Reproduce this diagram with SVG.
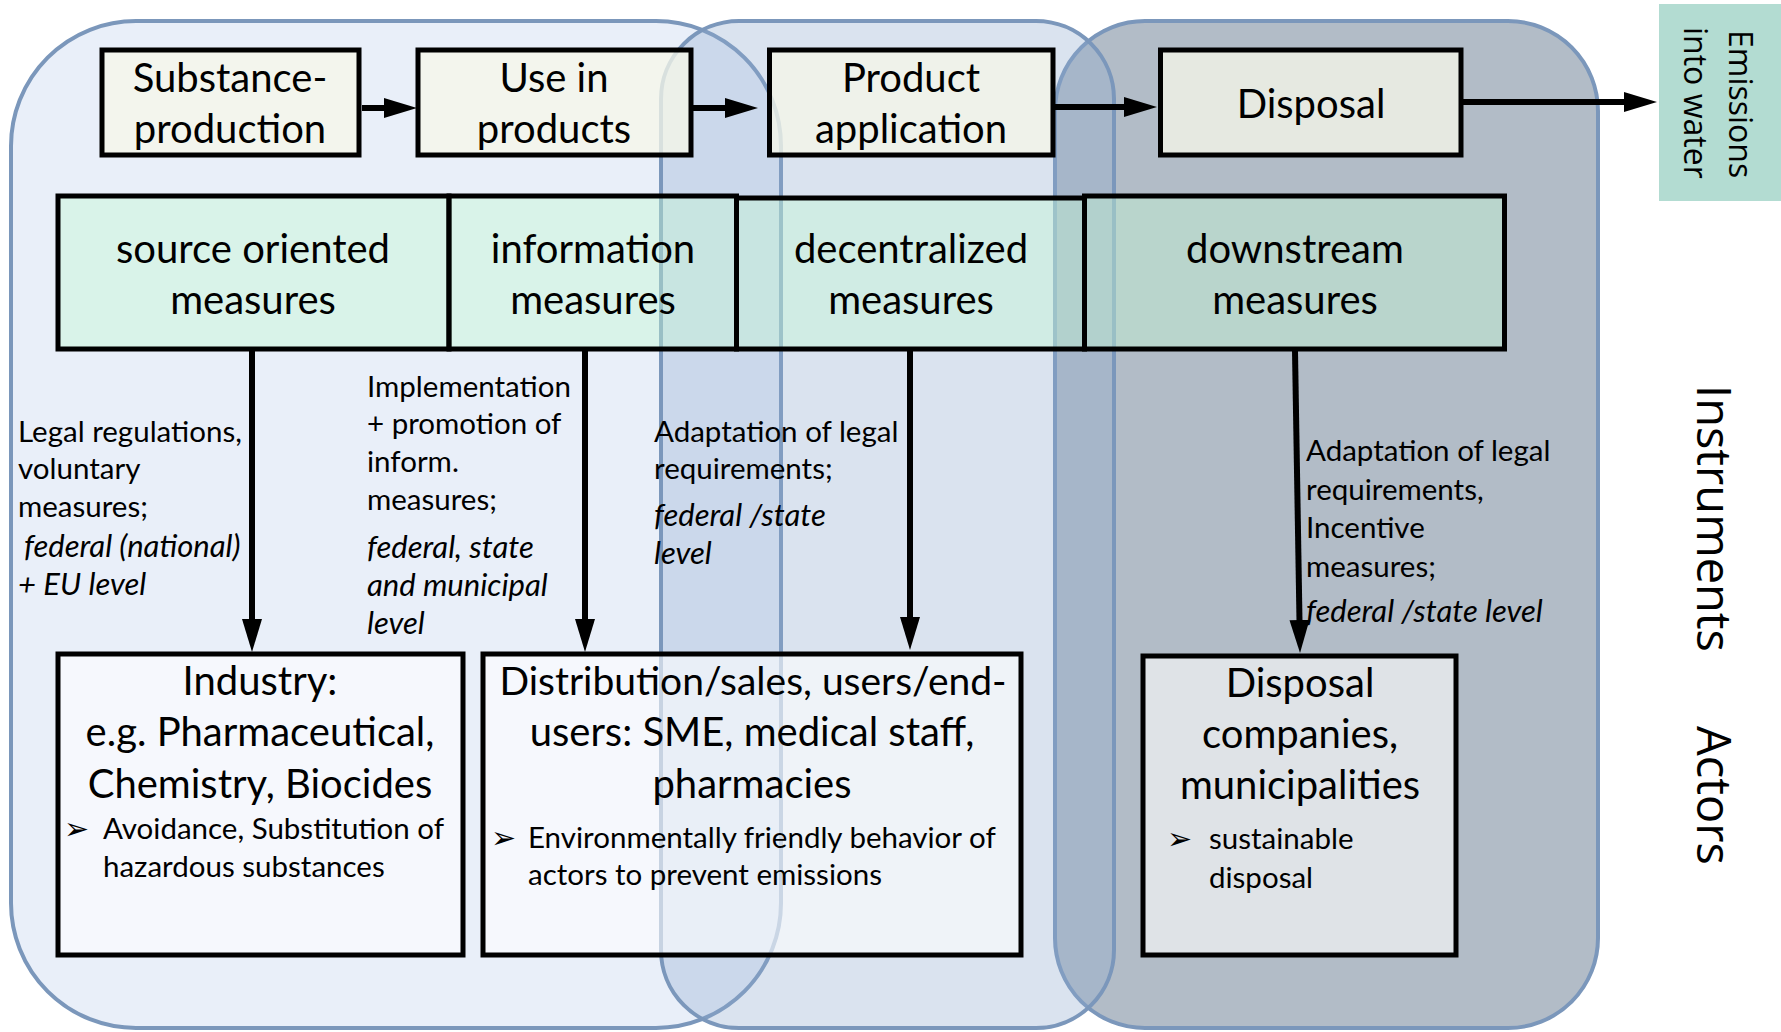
<svg xmlns="http://www.w3.org/2000/svg" width="1781" height="1032" viewBox="0 0 1781 1032">
<defs>
<style>
.blob{stroke:#7b97bb;stroke-width:4}
.top{fill:#f6f7e8;fill-opacity:0.76;stroke:#000;stroke-width:5}
.meas{fill:#c3f7d3;fill-opacity:0.42;stroke:#000;stroke-width:5}
.act{fill:#ffffff;fill-opacity:0.58;stroke:#000;stroke-width:5}
.conn{stroke:#000;stroke-width:6;fill:none;marker-end:url(#ah)}
text{font-family:Lato,"Liberation Sans",sans-serif;fill:#000}
.big{font-size:40px}
.big2{font-size:39px}
.sm{font-size:29.5px}
.it{font-style:italic;font-size:31px}
.mid{text-anchor:middle}
.rot{font-family:"Open Sans","DejaVu Sans",sans-serif}
.bul{font-family:"DejaVu Sans",sans-serif;font-size:30px}
</style>
<marker id="ah" markerUnits="userSpaceOnUse" markerWidth="34" markerHeight="22" viewBox="0 0 34 22" refX="1" refY="11" orient="auto">
<path d="M0,1 L33,11 L0,21 Z" fill="#000"/>
</marker>
</defs>
<rect width="1781" height="1032" fill="#fff"/>
<g id="phases">
<rect id="phase-left" class="blob" x="11" y="21" width="770" height="1007" rx="125" ry="125" fill="#e9eff9"/>
<rect id="phase-right" class="blob" x="1055" y="21" width="543" height="1007" rx="90" ry="90" fill="#b2bcc7"/>
<rect id="phase-middle" class="blob" x="661" y="21" width="453" height="1007" rx="78" ry="78" fill="#8eaace" fill-opacity="0.33"/>
</g>
<g id="emissions">
<rect x="1659" y="4" width="122" height="197" fill="#b3dcd2"/>
<text class="rot" font-size="32" transform="translate(1729,30) rotate(90)">Emissions</text>
<text class="rot" font-size="32" transform="translate(1684,27) rotate(90)">into water</text>
</g>
<g id="side-labels">
<text class="rot" font-size="47" transform="translate(1697,385) rotate(90)">Instruments</text>
<text class="rot" font-size="47" transform="translate(1697,726) rotate(90)">Actors</text>
</g>
<g id="substance-production">
<rect class="top" x="102" y="50" width="257" height="105"/>
<text class="big mid" x="230" y="92">Substance-</text>
<text class="big mid" x="230" y="143">production</text>
</g>
<g id="use-in-products">
<rect class="top" x="418" y="50" width="273" height="105"/>
<text class="big mid" x="554" y="92">Use in</text>
<text class="big mid" x="554" y="143">products</text>
</g>
<g id="product-application">
<rect class="top" x="769.5" y="50" width="283.5" height="105"/>
<text class="big mid" x="911" y="92">Product</text>
<text class="big mid" x="911" y="143">application</text>
</g>
<g id="disposal">
<rect class="top" x="1160.5" y="50" width="300.5" height="105"/>
<text class="big mid" x="1311" y="118">Disposal</text>
</g>
<g id="source-oriented-measures">
<rect class="meas" x="58" y="196" width="391" height="153"/>
<text class="big mid" x="253" y="263">source oriented</text>
<text class="big mid" x="253" y="314">measures</text>
</g>
<g id="information-measures">
<rect class="meas" x="449" y="196" width="287.5" height="153"/>
<text class="big mid" x="593" y="263">information</text>
<text class="big mid" x="593" y="314">measures</text>
</g>
<g id="decentralized-measures">
<rect class="meas" x="736.5" y="198" width="348" height="151"/>
<text class="big mid" x="911" y="263">decentralized</text>
<text class="big mid" x="911" y="314">measures</text>
</g>
<g id="downstream-measures">
<rect class="meas" x="1084.5" y="196" width="420" height="153"/>
<text class="big mid" x="1295" y="263">downstream</text>
<text class="big mid" x="1295" y="314">measures</text>
</g>
<g id="industry">
<rect class="act" x="58" y="654" width="405" height="301"/>
<text class="big mid" x="260" y="695">Industry:</text>
<text class="big mid" x="260" y="746">e.g. Pharmaceutical,</text>
<text class="big mid" x="260" y="798">Chemistry, Biocides</text>
<text class="bul" x="64" y="839">➢</text>
<text class="sm" x="103" y="839">Avoidance, Substitution of</text>
<text class="sm" x="103" y="877">hazardous substances</text>
</g>
<g id="distribution-users">
<rect class="act" x="483" y="654" width="538" height="301"/>
<text class="big2 mid" x="753" y="695">Distribution/sales, users/end-</text>
<text class="big mid" x="752" y="746">users: SME, medical staff,</text>
<text class="big mid" x="752" y="798">pharmacies</text>
<text class="bul" x="491" y="848">➢</text>
<text class="sm" x="528" y="848">Environmentally friendly behavior of</text>
<text class="sm" x="528" y="885">actors to prevent emissions</text>
</g>
<g id="disposal-companies">
<rect class="act" x="1143" y="656" width="313" height="299"/>
<text class="big mid" x="1300" y="697">Disposal</text>
<text class="big mid" x="1300" y="748">companies,</text>
<text class="big mid" x="1300" y="799">municipalities</text>
<text class="bul" x="1167" y="849">➢</text>
<text class="sm" x="1209" y="849">sustainable</text>
<text class="sm" x="1209" y="888">disposal</text>
</g>
<g id="connectors">
<line class="conn" x1="362" y1="108" x2="385" y2="108"/>
<line class="conn" x1="693" y1="108" x2="726" y2="108"/>
<line class="conn" x1="1055" y1="107" x2="1125" y2="107"/>
<line class="conn" x1="1463" y1="102" x2="1625" y2="102"/>
<line class="conn" x1="252" y1="351" x2="252" y2="620"/>
<line class="conn" x1="585" y1="351" x2="585" y2="620"/>
<line class="conn" x1="910" y1="351" x2="910" y2="618"/>
<line class="conn" x1="1295" y1="351" x2="1299.5" y2="621"/>
</g>
<g id="instrument-labels">
<g id="label-source">
<text class="sm" x="18" y="442">Legal regulations,</text>
<text class="sm" x="18" y="479">voluntary</text>
<text class="sm" x="18" y="517">measures;</text>
<text class="sm it" x="24" y="557">federal (national)</text>
<text class="sm it" x="18" y="595">+ EU level</text>
</g>
<g id="label-information">
<text class="sm" x="367" y="397">Implementation</text>
<text class="sm" x="367" y="434">+ promotion of</text>
<text class="sm" x="367" y="472">inform.</text>
<text class="sm" x="367" y="510">measures;</text>
<text class="sm it" x="367" y="558">federal, state</text>
<text class="sm it" x="367" y="596">and municipal</text>
<text class="sm it" x="367" y="634">level</text>
</g>
<g id="label-decentralized">
<text class="sm" x="654" y="442">Adaptation of legal</text>
<text class="sm" x="654" y="479">requirements;</text>
<text class="sm it" x="654" y="526">federal /state</text>
<text class="sm it" x="654" y="564">level</text>
</g>
<g id="label-downstream">
<text class="sm" x="1306" y="461">Adaptation of legal</text>
<text class="sm" x="1306" y="500">requirements,</text>
<text class="sm" x="1306" y="538">Incentive</text>
<text class="sm" x="1306" y="577">measures;</text>
<text class="sm it" x="1306" y="622">federal /state level</text>
</g>
</g>
</svg>
